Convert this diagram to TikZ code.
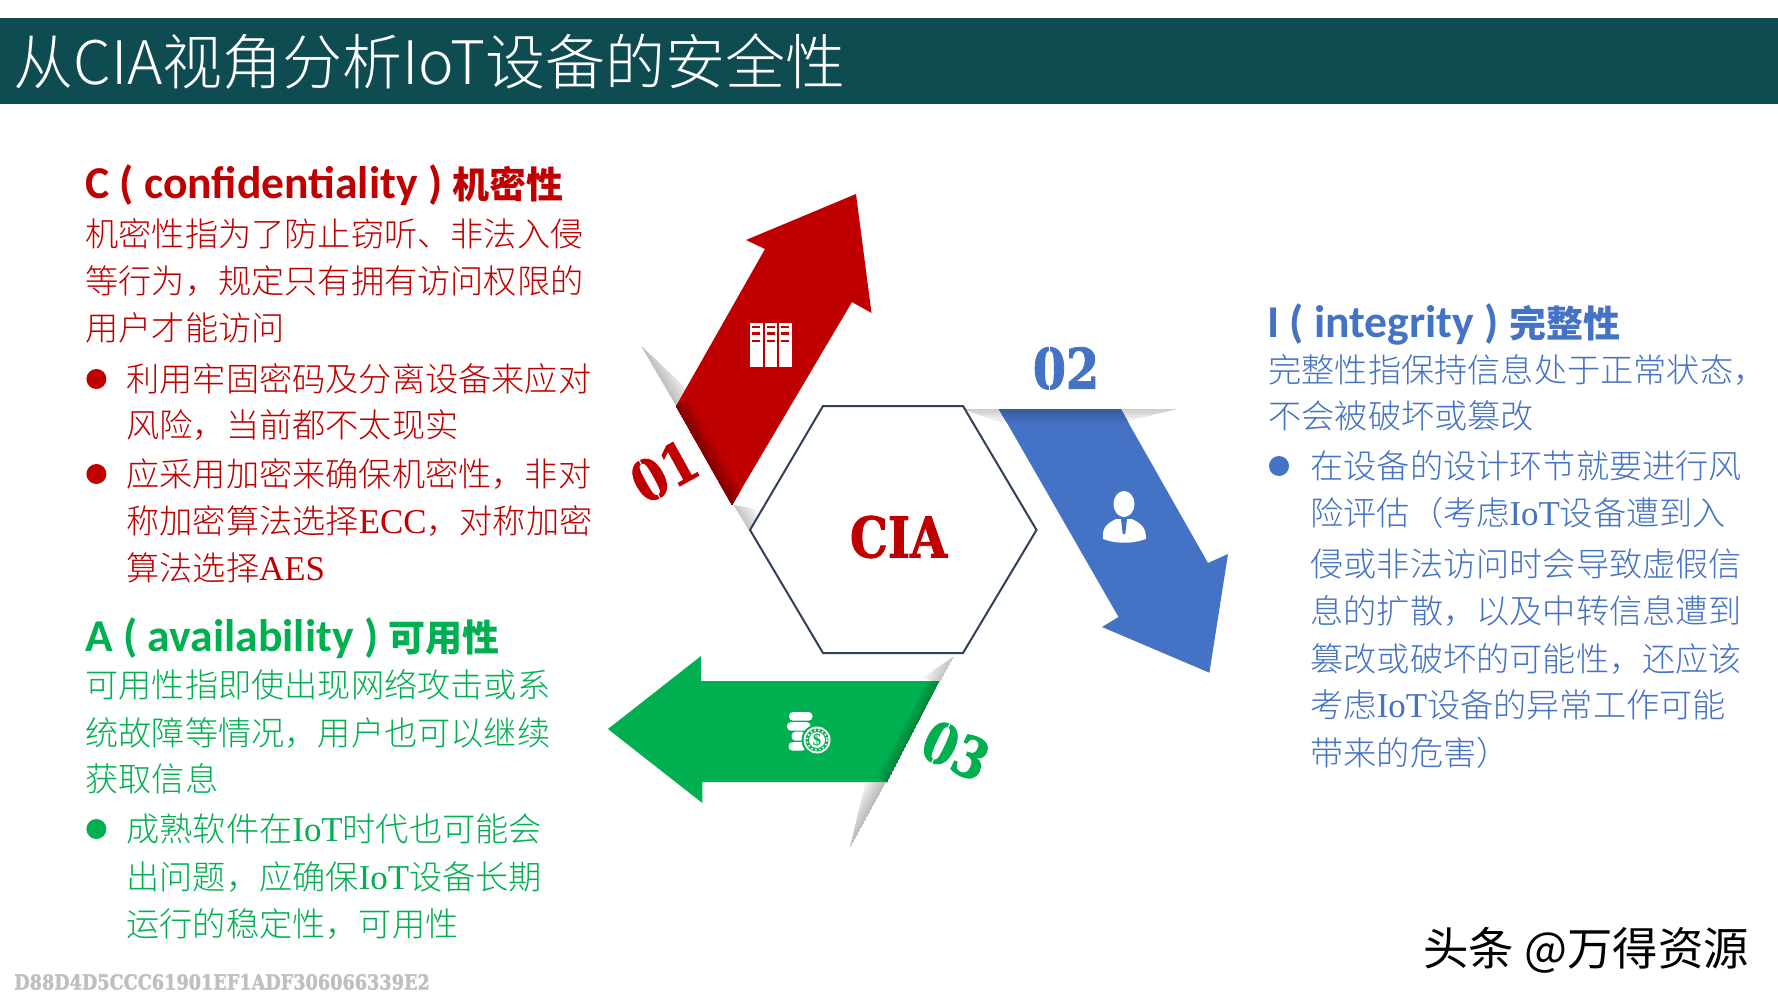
\documentclass[tikz,border=0pt]{standalone}
\usepackage{fontspec}
\setmainfont{Liberation Serif}
\newfontfamily\cjk{Noto Sans CJK SC Light}
\newfontfamily\cjkr{Noto Sans CJK SC}
\newfontfamily\lat[Scale=1.05]{Liberation Serif}
\newfontfamily\headlat{Carlito}
\newfontfamily\stencil[FakeStretch=0.85,BoldFeatures={FakeBold=1.6}]{DejaVu Serif}
\definecolor{cred}{HTML}{C00000}
\definecolor{cblue}{HTML}{4472C4}
\definecolor{cgreen}{HTML}{00B050}
\definecolor{cband}{HTML}{0F4C52}
\definecolor{chex}{HTML}{2F4058}
\newcommand{\stzero}{\setbox0\hbox{0}\rlap{0}\hbox to\wd0{\hss\textcolor{white}{\rule[-1pt]{0.6pt}{\dimexpr\ht0+2pt\relax}}\hss}}
\newcommand{\foldstrips}[9]{%
  \colorlet{foldA}{#8}\colorlet{foldB}{#9}%
  \foreach \k in {12,11,...,1}{%
    \pgfmathsetmacro\dd{#7*\k/12}%
    \pgfmathsetmacro\pp{100-100*(\k-1)/12}%
    \fill[foldA!\pp!foldB] (#1,#2) -- (#3,#4) -- ({#3+#5*\dd},{#4+#6*\dd}) -- ({#1+#5*\dd},{#2+#6*\dd}) -- cycle;
  }}
\tikzset{
  bodytxt/.style={anchor=west,inner sep=0pt,text height=14.6pt,text depth=2pt,font=\fontsize{16.6}{20}\selectfont\cjk},
  redt/.style={bodytxt,text=cred},
  greent/.style={bodytxt,text=cgreen},
  bluet/.style={bodytxt,text=cblue},
  headtxt/.style={anchor=west,inner sep=0pt,text height=15pt,text depth=3pt,font=\fontsize{22.8}{26}\selectfont\bfseries\headlat},
  bullet/.style={circle,inner sep=0pt,minimum size=10pt},
  numtxt/.style={inner sep=0pt,font=\fontsize{28}{30}\selectfont\bfseries\stencil},
}
\newcommand{\hc}[1]{{\fontsize{18.5}{22}\selectfont\cjkr\bfseries #1}}
\begin{document}
\begin{tikzpicture}[x=0.5pt,y=-0.5pt]
\useasboundingbox (0,0) rectangle (1778,1000);
\fill[white] (0,0) rectangle (1778,1000);
% title band
\fill[cband] (0,18) rectangle (1778,104);
\node[anchor=west,inner sep=0pt,text=white,font=\fontsize{30}{32}\selectfont\cjk] (title) at (13,62) {从CIA视角分析IoT设备的安全性};

% red arrow fold shadows
\begin{scope}
  \clip (642,347) -- (676,406) -- (694,396) -- cycle;
  \foldstrips{642}{347}{700}{446}{0.863}{-0.505}{22}{black!24}{white}
\end{scope}
\begin{scope}
  \clip (732,505) -- (749,530) -- (760,510) -- cycle;
  \foldstrips{720}{482}{749}{530}{0.863}{-0.505}{18}{black!22}{white}
\end{scope}
% red arrow
\fill[cred] (856,194) -- (871.5,313) -- (852,302) -- (732,505) -- (676,406) -- (765,249) -- (746,240) -- cycle;
\begin{scope}
  \clip (856,194) -- (871.5,313) -- (852,302) -- (732,505) -- (676,406) -- (765,249) -- (746,240) -- cycle;
  \foldstrips{676}{406}{732}{505}{0.863}{-0.505}{16}{cred!68!black}{cred}
\end{scope}
% books icon
\foreach \bx in {750.3,764.7,779.3}{
  \fill[white] (\bx,323) rectangle ++(12.2,43.7);
  \foreach \by in {326,332.5,340}{
    \fill[cred] ({\bx+2},\by) rectangle ++(8,2.2);
  }
}

% blue arrow fold shadows
\begin{scope}
  \clip (963,409) -- (1005,409) -- (1005,424) -- cycle;
  \foldstrips{960}{409}{1005}{409}{0}{1}{14}{black!20}{white}
\end{scope}
\begin{scope}
  \clip (1176,409) -- (1115,409) -- (1115,424) -- cycle;
  \foldstrips{1115}{409}{1176}{409}{0}{1}{14}{black!20}{white}
\end{scope}
% blue arrow
\fill[cblue] (999,409) -- (1120.6,409) -- (1208,563) -- (1228,554) -- (1209.4,672.7) -- (1102,627) -- (1118.5,617) -- cycle;
\begin{scope}
  \clip (999,409) -- (1120.6,409) -- (1208,563) -- (1228,554) -- (1209.4,672.7) -- (1102,627) -- (1118.5,617) -- cycle;
  \foldstrips{990}{409}{1130}{409}{0}{1}{14}{cblue!80!black}{cblue}
\end{scope}
% person icon
\fill[white] (1124,504) ellipse [x radius=10.5,y radius=13];
\fill[white] (1103,539) .. controls (1102,528) and (1106,524) .. (1116,519) -- (1132,519) .. controls (1142,524) and (1146,528) .. (1146,539) .. controls (1132,544) and (1116,544) .. (1103,539) -- cycle;
\fill[cblue] (1121,519) -- (1127,519) -- (1125.3,534) -- (1122.7,534) -- cycle;

% green arrow fold shadows
\begin{scope}
  \clip (953.5,657) -- (938,685) -- (924,677) -- cycle;
  \foldstrips{953.5}{657}{930}{700}{-0.879}{-0.477}{18}{black!22}{white}
\end{scope}
\begin{scope}
  \clip (850.4,847) -- (885.7,782) -- (868,772) -- cycle;
  \foldstrips{890}{775}{850.4}{847}{-0.879}{-0.477}{20}{black!26}{white}
\end{scope}
% green arrow
\fill[cgreen] (608,729) -- (701,656) -- (701,681) -- (939,681) -- (887,782) -- (702.3,782) -- (702.3,803) -- cycle;
\begin{scope}
  \clip (608,729) -- (701,656) -- (701,681) -- (939,681) -- (887,782) -- (702.3,782) -- (702.3,803) -- cycle;
  \foldstrips{940}{681}{887}{782}{-0.879}{-0.477}{12}{cgreen!75!black}{cgreen}
\end{scope}
% coins icon
\foreach \ax/\ay/\bx/\by in {789/712/812.5/720.7,787/722/810.5/730.7,791.5/731.7/806/740.7,788.5/742/806/750.7}{
  \fill[white,rounded corners=2pt] (\ax,\ay) rectangle (\bx,\by);
}
\fill[cgreen] (817,740) circle [radius=15.5];
\fill[white] (817,740) circle [radius=13.5];
\fill[cgreen] (817,740) circle [radius=11.5];
\draw[white,line width=0.8pt,dash pattern=on 0.8pt off 1.2pt] (817,740) circle [radius=10];
\fill[white] (817,740) circle [radius=8];
\node[inner sep=0pt,text=cgreen,font=\fontsize{8}{10}\selectfont\bfseries\lat] (dollar) at (817,740) {\$};

% hexagon
\draw[chex,line width=1pt,line join=miter,fill=white] (823,406) -- (963,406) -- (1036.5,530) -- (963,653) -- (823,653) -- (750,530) -- cycle;
\node[numtxt,text=cred] (cia) at (898.5,537) {CIA};

% number labels
\node[numtxt,text=cred,rotate=29] (n1) at (664,471) {\stzero 1};
\node[numtxt,text=cblue] (n2) at (1066,368) {\stzero 2};
\node[numtxt,text=cgreen,rotate=-25] (n3) at (956,750) {\stzero 3};

% C block
\node[headtxt,text=cred] (ch) at (85,187) {C ( confidentiality ) \hc{机密性}};
\node[redt] (c1) at (85,234) {机密性指为了防止窃听、非法入侵};
\node[redt] (c2) at (85,281) {等行为，规定只有拥有访问权限的};
\node[redt] (c3) at (85,328) {用户才能访问};
\node[bullet,fill=cred] (cb1) at (96.4,379) {};
\node[redt] (c4) at (126,379) {利用牢固密码及分离设备来应对};
\node[redt] (c5) at (126,425) {风险，当前都不太现实};
\node[bullet,fill=cred] (cb2) at (96.4,474) {};
\node[redt] (c6) at (126,474) {应采用加密来确保机密性，非对};
\node[redt] (c7) at (126,520.5) {称加密算法选择{\lat ECC}，对称加密};
\node[redt] (c8) at (126,568) {算法选择{\lat AES}};

% A block
\node[headtxt,text=cgreen] (ah) at (85,639) {A ( availability ) \hc{可用性}};
\node[greent] (a1) at (85,685) {可用性指即使出现网络攻击或系};
\node[greent] (a2) at (85,732.5) {统故障等情况，用户也可以继续};
\node[greent] (a3) at (85,779) {获取信息};
\node[bullet,fill=cgreen] (ab1) at (96.4,829) {};
\node[greent] (a4) at (126,829) {成熟软件在{\lat IoT}时代也可能会};
\node[greent] (a5) at (126,876.5) {出问题，应确保{\lat IoT}设备长期};
\node[greent] (a6) at (126,924) {运行的稳定性，可用性};

% I block
\node[headtxt,text=cblue] (ih) at (1267,325) {I ( integrity ) \hc{完整性}};
\node[bluet] (i1) at (1268,370) {完整性指保持信息处于正常状态，};
\node[bluet] (i2) at (1268,416) {不会被破坏或篡改};
\node[bullet,fill=cblue] (ib1) at (1279,466) {};
\node[bluet] (i3) at (1310,466) {在设备的设计环节就要进行风};
\node[bluet] (i4) at (1310,513) {险评估（考虑{\lat IoT}设备遭到入};
\node[bluet] (i5) at (1310,563.6) {侵或非法访问时会导致虚假信};
\node[bluet] (i6) at (1310,611) {息的扩散，以及中转信息遭到};
\node[bluet] (i7) at (1310,659) {篡改或破坏的可能性，还应该};
\node[bluet] (i8) at (1310,705) {考虑{\lat IoT}设备的异常工作可能};
\node[bluet] (i9) at (1310,753) {带来的危害）};

% footer
\node[anchor=west,inner sep=0pt,text=black!25,font=\fontsize{10.4}{12}\selectfont\bfseries\stencil] (hash) at (14,982) {D88D4D5CCC61901EF1ADF306066339E2};
\node[anchor=west,inner sep=0pt,text=black,font=\fontsize{22.7}{24}\selectfont\cjkr] (mark) at (1423,950) {头条 @万得资源};
\end{tikzpicture}
\end{document}
